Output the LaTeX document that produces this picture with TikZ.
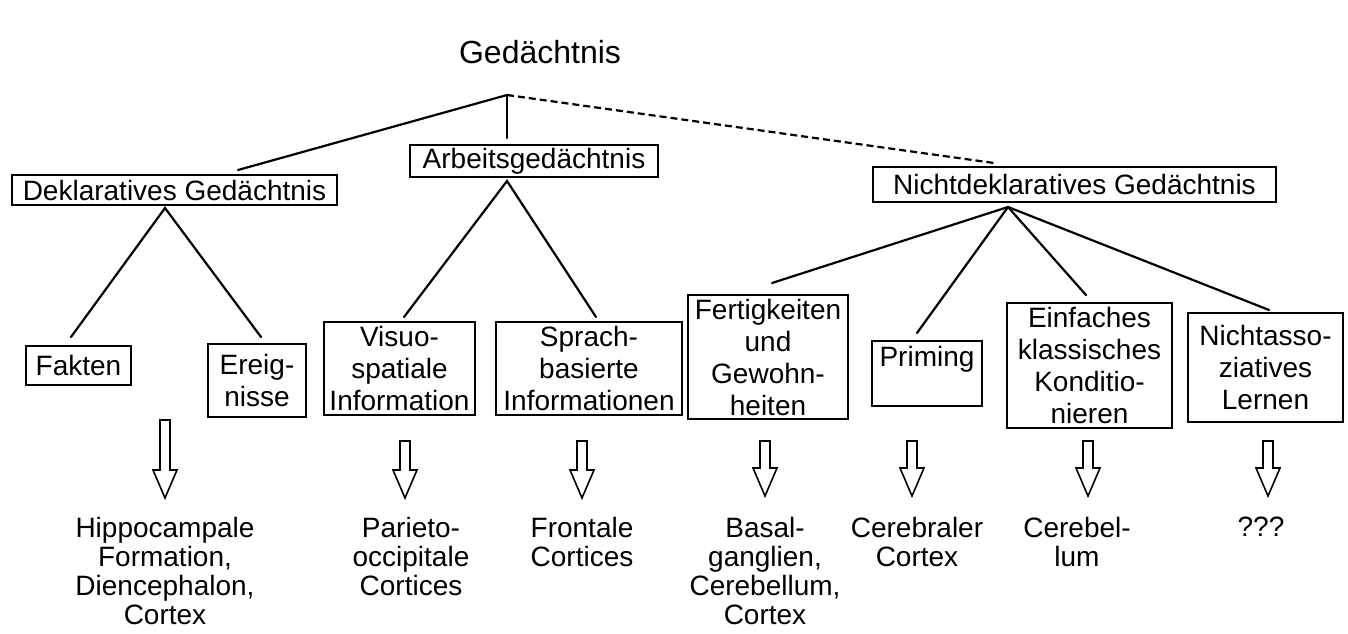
\documentclass[tikz,border=0pt]{standalone}
\usepackage{fontspec}
\setmainfont{Liberation Sans}
\newcommand\boxfont{\fontsize{28}{32}\selectfont}
\newcommand\lowfont{\fontsize{28}{29}\selectfont}
\newcommand\ttlfont{\fontsize{32}{36}\selectfont}
\begin{document}
\begin{tikzpicture}[x=1pt,y=-1pt,
  box/.style={draw=black, line width=1.1pt, inner sep=0pt, align=center, font=\boxfont},
  lbl/.style={inner sep=0pt, align=center, font=\lowfont},
  conn/.style={line width=2.2pt, line cap=round},
  dconn/.style={line width=2.2pt, dash pattern=on 7pt off 4pt},
  arrowline/.style={draw=black, line width=1.6pt, fill=white, line join=miter},
  pics/blockarrow/.style={code={
    \draw[arrowline] (-5,0) -- (-5,#1) -- (-12,#1) -- (0,#1+28) -- (12,#1) -- (5,#1) -- (5,0) -- cycle;
  }}]
\useasboundingbox (0,0) rectangle (1348,633);
\fill[white] (0,0) rectangle (1348,633);

% title
\node[font=\ttlfont, inner sep=0pt] (title) at (540,52) {Gedächtnis};

% level 1
\coordinate (root) at (507,95);
\node[box, minimum width=325, minimum height=30] (dekl) at (174.5,190) {Deklaratives Gedächtnis};
\node[box, minimum width=248, minimum height=32] (arb) at (534,161) {Arbeitsgedächtnis};
\node[box, minimum width=403, minimum height=35] (nicht) at (1074.5,184.5) {Nichtdeklaratives Gedächtnis};

\coordinate (dekl-in) at (238,170);
\coordinate (arb-in) at (507,138);
\coordinate (nicht-in) at (994,163);
\draw[conn] (root) -- (dekl-in);
\draw[conn] (root) -- (arb-in);
\draw[dconn] (root) -- (nicht-in);

% level 2 boxes
\node[box, minimum width=105, minimum height=39] (fakten) at (78.5,365.5) {Fakten};
\node[box, minimum width=98, minimum height=73] (ereig) at (257,380.5) {Ereig-\\nisse};
\node[box, minimum width=151, minimum height=93] (visuo) at (399.5,368.5) {Visuo-\\spatiale\\Information};
\node[box, minimum width=186, minimum height=93] (sprach) at (589,368.5) {Sprach-\\basierte\\Informationen};
\node[box, minimum width=160, minimum height=124] (fertig) at (768,357) {Fertigkeiten\\und\\Gewohn-\\heiten};
\node[box, minimum width=110, minimum height=65] (priming) at (927,373.5) {};
\node[inner sep=0pt, font=\boxfont, anchor=north] (primingtxt) at (927,346) {Priming};
\node[box, minimum width=165, minimum height=125] (einf) at (1089.5,365.5) {Einfaches\\klassisches\\Konditio-\\nieren};
\node[box, minimum width=155, minimum height=109] (nasso) at (1265.5,367.5) {Nichtasso-\\ziatives\\Lernen};

% connectors level 2
\coordinate (dekl-apex) at (165,208);
\coordinate (fakten-in) at (71,337);
\coordinate (ereig-in) at (261,337);
\draw[conn] (fakten-in) -- (dekl-apex) -- (ereig-in);

\coordinate (arb-apex) at (507,181);
\coordinate (visuo-in) at (404,317);
\coordinate (sprach-in) at (596,317);
\draw[conn] (visuo-in) -- (arb-apex) -- (sprach-in);

\coordinate (nicht-apex) at (1008,207);
\coordinate (fertig-in) at (772,283);
\coordinate (priming-in) at (917,333);
\coordinate (einf-in) at (1086,295);
\coordinate (nasso-in) at (1269,310);
\draw[conn] (nicht-apex) -- (fertig-in);
\draw[conn] (nicht-apex) -- (priming-in);
\draw[conn] (nicht-apex) -- (einf-in);
\draw[conn] (nicht-apex) -- (nasso-in);

% block arrows
\pic at (165,420) {blockarrow=50};
\pic at (405,441) {blockarrow=29};
\pic at (582,441) {blockarrow=29};
\pic at (765,441) {blockarrow=27};
\pic at (912,441) {blockarrow=27};
\pic at (1088,441) {blockarrow=27};
\pic at (1268,441) {blockarrow=27};

% bottom labels
\node[lbl, anchor=north] (hippo) at (165,517) {Hippocampale\\Formation,\\Diencephalon,\\Cortex};
\node[lbl, anchor=north] (parieto) at (411,517) {Parieto-\\occipitale\\Cortices};
\node[lbl, anchor=north] (frontal) at (582,517) {Frontale\\Cortices};
\node[lbl, anchor=north] (basal) at (765,517) {Basal-\\ganglien,\\Cerebellum,\\Cortex};
\node[lbl, anchor=north] (cerebral) at (917,517) {Cerebraler\\Cortex};
\node[lbl, anchor=north] (cerebel) at (1077,517) {Cerebel-\\lum};
\node[lbl, anchor=north] (unknown) at (1261,517) {???};
\end{tikzpicture}
\end{document}
